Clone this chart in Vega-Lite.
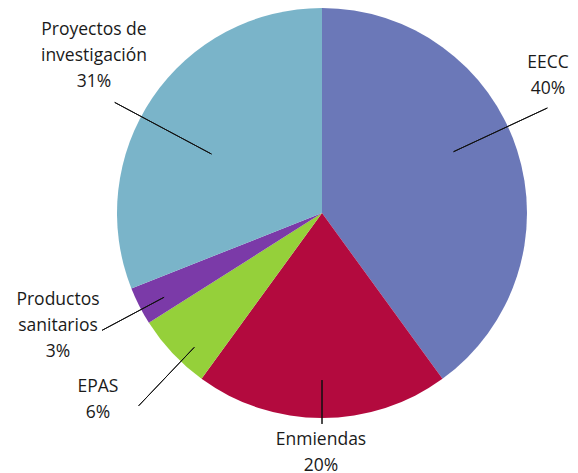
{
  "$schema": "https://vega.github.io/schema/vega-lite/v6.json",
  "autosize": {"type": "none"},
  "width": 512,
  "height": 426,
  "padding": {"left": 66, "top": 0, "right": 0, "bottom": 47},
  "background": "white",
  "config": {"view": {"stroke": null}},
  "datasets": {
    "slices": [
      {"category": "EECC", "value": 40, "idx": 1},
      {"category": "Enmiendas", "value": 20, "idx": 2},
      {"category": "EPAS", "value": 6, "idx": 3},
      {"category": "Productos sanitarios", "value": 3, "idx": 4},
      {"category": "Proyectos de investigación", "value": 31, "idx": 5}
    ],
    "labels": [
      {"label": "EECC\n40%", "pos": 15.67, "r": 1.323, "lpos": 18.06, "r1": 0.708, "r2": 1.213},
      {"label": "Enmiendas\n20%", "pos": 50.07, "r": 1.107, "lpos": 50.0, "r1": 0.815, "r2": 1.029},
      {"label": "EPAS\n6%", "pos": 64.49, "r": 1.384, "lpos": 62.1, "r1": 0.904, "r2": 1.298},
      {"label": "Productos\nsanitarios\n3%", "pos": 69.93, "r": 1.356, "lpos": 67.2, "r1": 0.873, "r2": 1.216},
      {"label": "Proyectos de\ninvestigación\n31%", "pos": 85.76, "r": 1.426, "lpos": 82.8, "r1": 0.611, "r2": 1.146}
    ]
  },
  "layer": [
    {
      "data": {"name": "slices"},
      "mark": {"type": "arc", "outerRadius": 205},
      "encoding": {
        "theta": {"field": "value", "type": "quantitative", "stack": true, "scale": {"domain": [0, 100]}},
        "order": {"field": "idx", "type": "quantitative"},
        "color": {
          "field": "category",
          "type": "nominal",
          "scale": {
            "domain": ["EECC", "Enmiendas", "EPAS", "Productos sanitarios", "Proyectos de investigación"],
            "range": ["#6b78b8", "#b30a3e", "#95d03a", "#7b3aa8", "#7ab4c9"]
          },
          "legend": null
        }
      }
    },
    {
      "data": {"name": "labels"},
      "mark": {"type": "arc", "stroke": "#111111", "strokeWidth": 1, "fill": null, "filled": false},
      "encoding": {
        "theta": {"field": "lpos", "type": "quantitative", "stack": null},
        "theta2": {"field": "lpos"},
        "radius": {"field": "r1", "type": "quantitative", "scale": {"type": "linear", "domain": [0, 1], "range": [0, 205], "zero": true}},
        "radius2": {"field": "r2"}
      }
    },
    {
      "data": {"name": "labels"},
      "mark": {"type": "text", "font": "Open Sans", "fontSize": 17.5, "lineHeight": 26, "lineBreak": "\n", "align": "center", "baseline": "middle", "color": "#1a1a1a"},
      "encoding": {
        "theta": {"field": "pos", "type": "quantitative", "stack": null},
        "radius": {"field": "r", "type": "quantitative", "scale": {"type": "linear", "domain": [0, 1], "range": [0, 205], "zero": true}},
        "text": {"field": "label", "type": "nominal"}
      }
    }
  ]
}
